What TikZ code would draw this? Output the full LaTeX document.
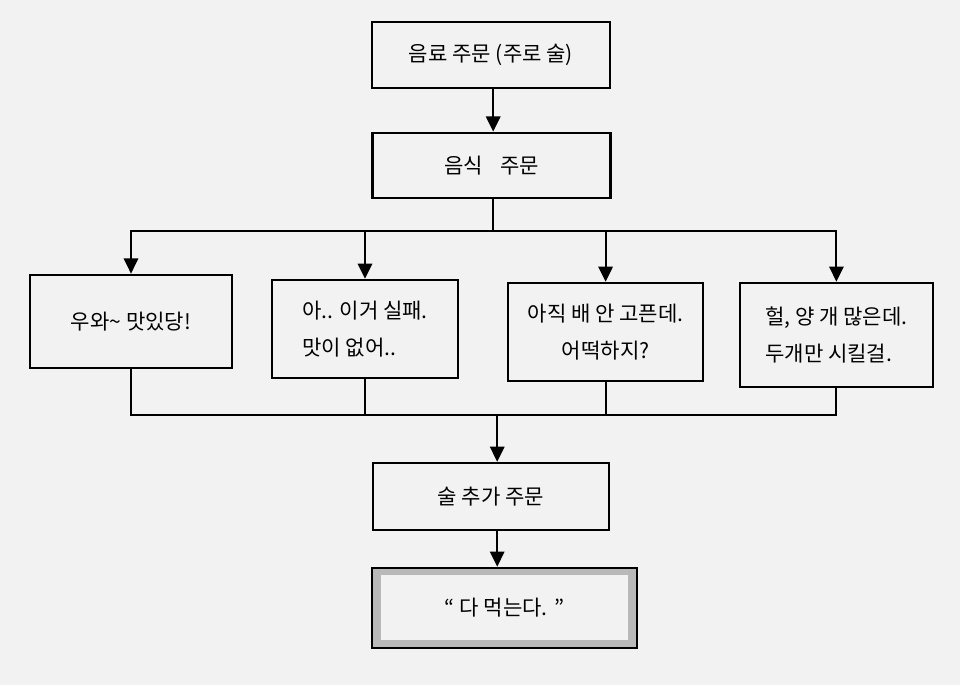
\documentclass[tikz,border=0pt]{standalone}
\usepackage{fontspec}
\newfontfamily\kr{Noto Sans CJK KR}
\usepackage{xcolor}
\usepackage{tikz}
\usetikzlibrary{arrows.meta, calc}
\definecolor{paper}{RGB}{242,242,242}

\begin{document}
\begin{tikzpicture}[font=\kr\fontsize{15}{26}\selectfont,
  box/.style={draw, line width=1.8pt, minimum width=5.95cm, minimum height=1.65cm},
  link/.style={line width=1.5pt},
  arr/.style={link, -{Triangle[length=0.38cm, width=0.36cm]}}]
  % paper
  \fill[paper] (0,0) rectangle (24,17.125);
  % orders
  \node[box] (drink) at (12.275,15.75) {음료 주문 (주로 술)};
  \node[box, minimum height=1.625cm] (food) at (12.29,12.99) {음식\hspace{0.8em}주문};
  % reactions
  \node[box, minimum width=5.05cm, minimum height=2.325cm] (wow) at (3.275,9.09) {우와\textasciitilde{} 맛있당!};
  \node[box, minimum width=4.65cm, minimum height=2.45cm, align=left] (fail) at (9.125,8.9) {아.. 이거 실패.\\맛이 없어..};
  \node[box, minimum width=4.875cm, minimum height=2.45cm, align=center] (full) at (15.14,8.825) {아직 배 안 고픈데.\\어떡하지?};
  \node[box, minimum width=4.825cm, minimum height=2.6cm, align=left] (much) at (20.91,8.75) {헐, 양 개 많은데.\\두개만 시킬걸.};
  % outcome
  \node[box, minimum width=5.9cm, minimum height=1.675cm] (more) at (12.275,4.71) {술 추가 주문};
  \node[box, minimum width=6.625cm, minimum height=2cm, fill=gray!55,
        path picture={\fill[paper] ($(path picture bounding box.south west)+(0.22,0.2)$)
          rectangle ($(path picture bounding box.north east)-(0.22,0.17)$);}] (eat) at (12.61,1.925) {“ 다 먹는다. ”};
  % connectors
  \coordinate (fork) at (12.33,11.35);
  \coordinate (join) at (12.43,6.75);
  \draw[arr] (drink.south -| fork) -- (food.north -| fork);
  \draw[link] (food.south -| fork) -- (fork);
  \foreach \n in {wow,fail,full,much}{
    \draw[arr] (fork) -| (\n.north);
    \draw[link] (\n.south) |- (join);
  }
  \draw[arr] (join) -- (join |- more.north);
  \draw[arr] (more.south -| join) -- (join |- eat.north);
\end{tikzpicture}
\end{document}
